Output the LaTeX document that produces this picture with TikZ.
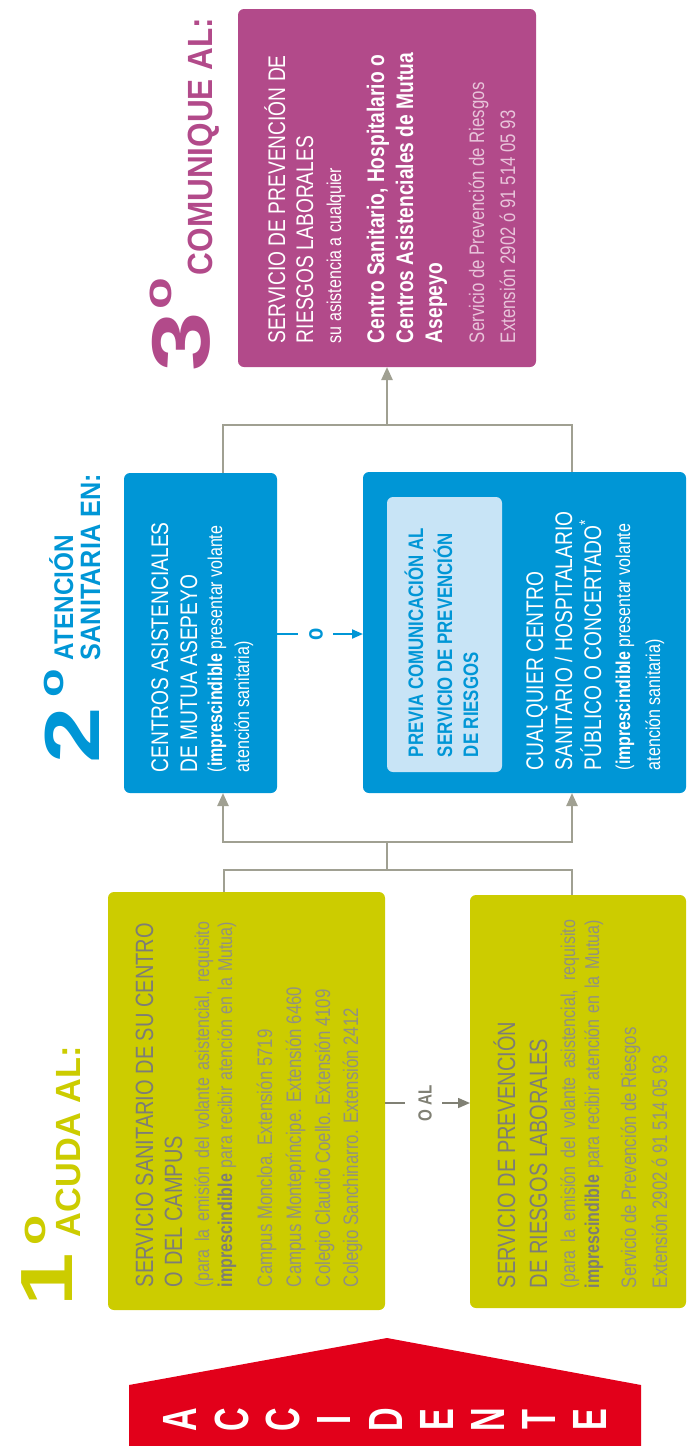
\documentclass[tikz,border=0pt]{standalone}
\usepackage{fontspec}
\usetikzlibrary{arrows.meta}
\newfontfamily\bodyfont{Liberation Sans}[FakeStretch=0.8]
\newfontfamily\headfont{Liberation Sans}[FakeStretch=0.9]
\newfontfamily\headwfont{Liberation Sans}[FakeStretch=0.98]
\newfontfamily\digfont{Liberation Sans}[FakeStretch=1.3]
\newfontfamily\accfont{Liberation Sans}[FakeStretch=0.8]
\newcommand\fsz[1]{\fontsize{#1}{#1}\selectfont}
\definecolor{cyel}{RGB}{204,204,0}
\definecolor{cblue}{RGB}{0,150,214}
\definecolor{clight}{RGB}{200,228,246}
\definecolor{cpurp}{RGB}{178,74,138}
\definecolor{cpink}{RGB}{232,196,218}
\definecolor{cred}{RGB}{226,0,26}
\definecolor{cline}{RGB}{160,160,146}
\definecolor{cdark}{RGB}{128,128,116}
\definecolor{ytit}{RGB}{125,125,118}
\definecolor{ybody}{RGB}{145,145,128}
\begin{document}
\begin{tikzpicture}[x=1pt,y=-1pt,
  ln/.style={rotate=90, anchor=base west, inner sep=0pt, outer sep=0pt},
  box/.style={rounded corners=6pt, inner sep=0pt, outer sep=0pt, draw=none},
  conn/.style={draw=cline, line width=2.4pt},
  arr/.style={-{Triangle[length=13pt,width=11pt]}},
  acc/.style={rotate=90, anchor=center, inner sep=0pt, text=white, font=\accfont\bfseries\fsz{48}},
  hd/.style={rotate=90, inner sep=0pt, outer sep=0pt, font=\headfont\bfseries},
  dg/.style={rotate=90, anchor=center, inner sep=0pt, outer sep=0pt}]
\useasboundingbox (0,0) rectangle (686,1446);

% ---------- boxes ----------
\node[box, fill=cyel, minimum width=277pt, minimum height=418pt] (y1) at (246.5,1101) {};
\node[box, fill=cyel, minimum width=216pt, minimum height=413pt] (y2) at (578,1101.5) {};
\node[box, fill=cblue, minimum width=153pt, minimum height=320pt] (b1) at (200.5,633) {};
\node[box, fill=cblue, minimum width=323pt, minimum height=321pt] (b2) at (524.5,632.5) {};
\node[box, fill=clight, minimum width=115pt, minimum height=275pt] (bi) at (444.5,634.5) {};
\node[box, fill=cpurp, minimum width=298pt, minimum height=358pt] (p) at (387,188) {};

% ---------- ACCIDENTE ----------
\fill[cred] (129,1446) -- (129,1385) -- (387,1338) -- (641,1385) -- (641,1446) -- cycle;
\foreach \l/\xx [count=\i] in {A/180,C/232,C/283,I/334,D/386,E/437,N/488,T/539,E/590}
  \node[acc] (acc\i) at (\xx,1420) {\scalebox{0.85}[1]{\l}};

% ---------- headers ----------
\node[dg, text=cyel, font=\digfont\bfseries\fsz{74}] (h1d) at (47,1280) {1};
\node[dg, text=cyel, font=\digfont\bfseries\fsz{38}] (h1o) at (35,1230) {o};
\node[hd, anchor=base west, text=cyel, font=\headwfont\bfseries\fsz{35}] (h1t) at (80,1237) {ACUDA AL:};

\node[dg, text=cblue, font=\digfont\bfseries\fsz{78}] (h2d) at (72,735) {2};
\node[dg, text=cblue, font=\digfont\bfseries\fsz{36}] (h2o) at (54,683) {o};
\node[hd, anchor=base west, text=cblue, font=\headfont\bfseries\fsz{27}] (h2t) at (73,660) {ATENCIÓN};
\node[hd, anchor=base west, text=cblue, font=\headfont\bfseries\fsz{28}] (h2u) at (100,660) {SANITARIA EN:};

\node[dg, text=cpurp, font=\digfont\bfseries\fsz{82}] (h3d) at (181,342) {3};
\node[dg, text=cpurp, font=\digfont\bfseries\fsz{40}] (h3o) at (161,294) {o};
\node[hd, anchor=base west, text=cpurp, font=\headfont\bfseries\fsz{35}] (h3t) at (212,275) {COMUNIQUE AL:};

% ---------- yellow box 1 ----------
\node[ln, text=ytit, font=\bodyfont\fsz{25}] (y1a) at (153,1287) {SERVICIO SANITARIO DE SU CENTRO};
\node[ln, text=ytit, font=\bodyfont\fsz{25}] (y1b) at (182,1287) {O DEL CAMPUS};
\node[ln, text=ybody, font=\bodyfont\fsz{20}] (y1c) at (209,1287) {\makebox[365pt][s]{(para la emisión del volante asistencial, requisito}};
\node[ln, text=ybody, font=\bodyfont\fsz{20}] (y1d) at (232,1287) {\makebox[365pt][s]{{\bfseries\color{ytit}imprescindible} para recibir atención en la Mutua)}};
\node[ln, text=ybody, font=\bodyfont\fsz{21}] (y1e) at (272,1287) {Campus Moncloa. Extensión 5719};
\node[ln, text=ybody, font=\bodyfont\fsz{21}] (y1f) at (301,1287) {Campus Montepríncipe. Extensión 6460};
\node[ln, text=ybody, font=\bodyfont\fsz{21}] (y1g) at (330,1287) {Colegio Claudio Coello. Extensión 4109};
\node[ln, text=ybody, font=\bodyfont\fsz{21}] (y1h) at (358,1287) {Colegio Sanchinarro. Extensión 2412};

% ---------- yellow box 2 ----------
\node[ln, text=ytit, font=\bodyfont\fsz{25}] (y2a) at (515,1288) {SERVICIO DE PREVENCIÓN};
\node[ln, text=ytit, font=\bodyfont\fsz{25}] (y2b) at (547,1288) {DE RIESGOS LABORALES};
\node[ln, text=ybody, font=\bodyfont\fsz{20}] (y2c) at (575,1288) {\makebox[368pt][s]{(para la emisión del volante asistencial, requisito}};
\node[ln, text=ybody, font=\bodyfont\fsz{20}] (y2d) at (599,1288) {\makebox[368pt][s]{{\bfseries\color{ytit}imprescindible} para recibir atención en la Mutua)}};
\node[ln, text=ybody, font=\bodyfont\fsz{21}] (y2e) at (636,1288) {Servicio de Prevención de Riesgos};
\node[ln, text=ybody, font=\bodyfont\fsz{21}] (y2f) at (667,1288) {Extensión 2902 ó 91 514 05 93};

% ---------- blue box 1 ----------
\node[ln, text=white, font=\bodyfont\fsz{24}] (b1a) at (168,772) {CENTROS ASISTENCIALES};
\node[ln, text=white, font=\bodyfont\fsz{24}] (b1b) at (197,772) {DE MUTUA ASEPEYO};
\node[ln, text=white, font=\bodyfont\fsz{20}] (b1c) at (222,772) {({\bfseries imprescindible} presentar volante};
\node[ln, text=white, font=\bodyfont\fsz{20}] (b1d) at (249,772) {atención sanitaria)};

% ---------- blue box 2 ----------
\node[ln, text=cblue, font=\bodyfont\bfseries\fsz{21}] (bia) at (423,757) {PREVIA COMUNICACIÓN AL};
\node[ln, text=cblue, font=\bodyfont\bfseries\fsz{21}] (bib) at (452,757) {SERVICIO DE PREVENCIÓN};
\node[ln, text=cblue, font=\bodyfont\bfseries\fsz{21}] (bic) at (478,757) {DE RIESGOS};
\node[ln, text=white, font=\bodyfont\fsz{24}] (b2a) at (543,770) {CUALQUIER CENTRO};
\node[ln, text=white, font=\bodyfont\fsz{24}] (b2b) at (572,770) {SANITARIO / HOSPITALARIO};
\node[ln, text=white, font=\bodyfont\fsz{24}] (b2c) at (601,770) {PÚBLICO O CONCERTADO\raisebox{10pt}{\fsz{17}*}};
\node[ln, text=white, font=\bodyfont\fsz{20}] (b2d) at (630,770) {({\bfseries imprescindible} presentar volante};
\node[ln, text=white, font=\bodyfont\fsz{20}] (b2e) at (660,770) {atención sanitaria)};

% ---------- purple box ----------
\node[ln, text=white, font=\bodyfont\fsz{24}] (pa) at (285,343) {SERVICIO DE PREVENCIÓN DE};
\node[ln, text=white, font=\bodyfont\fsz{24}] (pb) at (313,343) {RIESGOS LABORALES};
\node[ln, text=white, font=\bodyfont\fsz{20}] (pc) at (341,343) {su asistencia a cualquier};
\node[ln, text=white, font=\bodyfont\bfseries\fsz{24}] (pd) at (384,343) {Centro Sanitario, Hospitalario o};
\node[ln, text=white, font=\bodyfont\bfseries\fsz{24}] (pe) at (413,343) {Centros Asistenciales de Mutua};
\node[ln, text=white, font=\bodyfont\bfseries\fsz{24}] (pf) at (442,343) {Asepeyo};
\node[ln, text=cpink, font=\bodyfont\fsz{21}] (pg) at (484,343) {Servicio de Prevención de Riesgos};
\node[ln, text=cpink, font=\bodyfont\fsz{21}] (ph) at (515,343) {Extensión 2902 ó 91 514 05 93};

% ---------- connectors ----------
\coordinate (j1) at (224,870);
\coordinate (j2) at (572,870);
\coordinate (jm) at (387,870);
\coordinate (jm2) at (387,842);
\coordinate (k1) at (223,842);
\coordinate (k2) at (572,842);
\draw[conn] (y1.north -| j1) -- (j1) -- (j2) -- (y2.north -| j2);
\draw[conn] (jm) -- (jm2);
\draw[conn, arr] (jm2) -- (k1) -- (b1.south -| k1);
\draw[conn, arr] (jm2) -- (k2) -- (b2.south -| k2);

\coordinate (t1) at (223,425);
\coordinate (t2) at (572,425);
\coordinate (tm) at (387,425);
\draw[conn] (b1.north -| t1) -- (t1) -- (t2) -- (b2.north -| t2);
\draw[conn, arr] (tm) -- (p.south);

% blue "o" arrow
\coordinate (o1) at (298,634);
\coordinate (o2) at (333,634);
\draw[cblue, line width=2pt] (b1.east |- o1) -- (o1);
\node[rotate=90, inner sep=0pt, text=cblue, font=\bodyfont\bfseries\fsz{25}] (olab) at (316,634) {o};
\draw[cblue, line width=2pt, -{Triangle[length=11pt,width=9pt]}] (o2) -- (b2.west |- o2);

% gray "O AL" arrow
\coordinate (a1) at (405,1103);
\coordinate (a2) at (442,1103);
\draw[cdark, line width=1.6pt] (y1.east |- a1) -- (a1);
\node[rotate=90, inner sep=0pt, text=cdark, font=\bodyfont\bfseries\fsz{19}] (oal) at (425,1103) {O AL};
\draw[cdark, line width=1.6pt, -{Triangle[length=12pt,width=10pt]}] (a2) -- (y2.west |- a2);
\end{tikzpicture}
\end{document}
